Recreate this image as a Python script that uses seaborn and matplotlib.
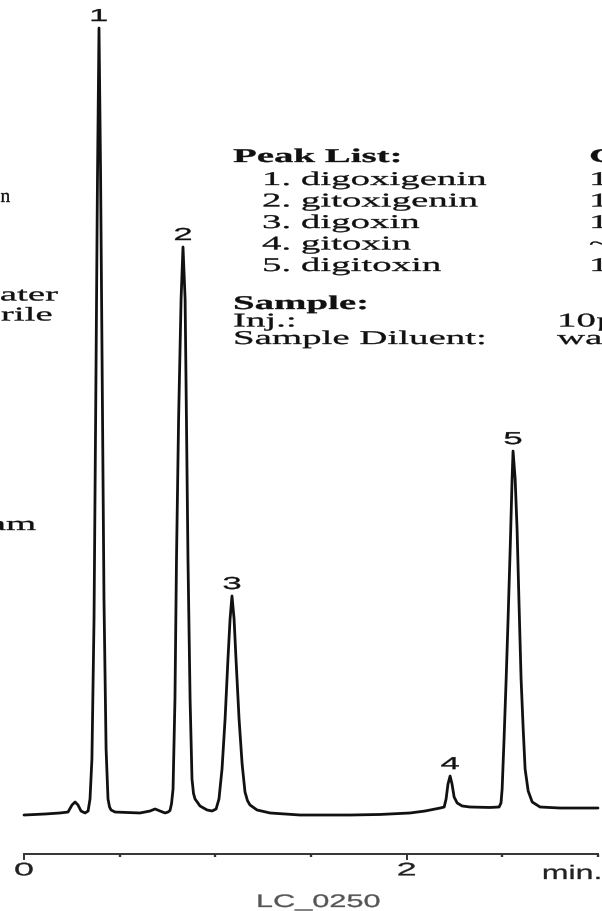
import matplotlib
matplotlib.use("Agg")
import matplotlib.pyplot as plt
import matplotlib.patheffects as pe
from matplotlib.transforms import Affine2D
import numpy as np
import pandas as pd
import seaborn as sns

# ---------------- data ----------------
time_min = [0.000, 0.110, 0.188, 0.230, 0.251, 0.267, 0.282, 0.298, 0.319, 0.335,
            0.345, 0.355, 0.366, 0.376, 0.384, 0.392, 0.400, 0.408, 0.418, 0.429,
            0.439, 0.447, 0.455, 0.476, 0.606, 0.659, 0.685, 0.711, 0.737, 0.753,
            0.763, 0.771, 0.779, 0.789, 0.797, 0.808, 0.821, 0.831, 0.842, 0.849,
            0.857, 0.868, 0.878, 0.886, 0.894, 0.920, 0.957, 0.983, 1.004, 1.019,
            1.035, 1.051, 1.066, 1.077, 1.087, 1.098, 1.108, 1.124, 1.140, 1.155,
            1.168, 1.181, 1.218, 1.286, 1.443, 1.704, 1.861, 2.018, 2.096, 2.175,
            2.196, 2.206, 2.216, 2.227, 2.237, 2.248, 2.264, 2.290, 2.331, 2.436,
            2.483, 2.493, 2.499, 2.509, 2.520, 2.530, 2.541, 2.551, 2.556, 2.567,
            2.577, 2.588, 2.598, 2.609, 2.619, 2.635, 2.656, 2.697, 2.802, 3.000]
signal = [-0.13, 0.00, 0.13, 0.25, 1.15, 1.53, 1.15, 0.38, 0.13, 0.38,
          1.91, 7.00, 24.81, 55.34, 80.79, 100.00, 82.06, 57.89, 27.35, 8.27,
          1.91, 0.89, 0.51, 0.25, 0.13, 0.38, 0.64, 0.38, 0.13, 0.25,
          0.45, 1.30, 3.18, 14.63, 32.44, 50.25, 65.52, 72.14, 65.52, 50.25,
          32.44, 14.63, 4.45, 2.60, 1.91, 1.02, 0.51, 0.38, 0.64, 1.91,
          5.73, 12.09, 19.72, 24.81, 27.74, 24.81, 19.72, 12.09, 6.36, 2.80,
          1.70, 1.15, 0.51, 0.13, -0.13, -0.13, -0.06, 0.13, 0.38, 0.76,
          0.89, 1.91, 3.82, 4.83, 3.82, 2.16, 1.40, 1.02, 0.89, 0.83,
          0.89, 1.40, 3.18, 9.54, 17.18, 24.81, 33.72, 42.62, 46.18, 42.62,
          36.26, 26.08, 17.18, 10.81, 5.73, 2.93, 1.53, 0.89, 0.76, 0.76]

peak_numbers = ["1", "2", "3", "4", "5"]
peak_times = [0.392, 0.831, 1.087, 2.227, 2.556]
peak_heights = [100.00, 72.14, 27.74, 4.83, 46.18]

compounds = ["digoxigenin", "gitoxigenin", "digoxin", "gitoxin", "digitoxin"]
conc_visible = ["1", "1", "1", "~", "1"]

major_ticks = [0, 2]
major_tick_labels = ["0", "2"]
minor_ticks = [0.5, 1.0, 1.5, 2.5, 3.0]


# ---------------- horizontal text stretch (the reference text is wide) ----
class HStretch(pe.AbstractPathEffect):
    def __init__(self, sx=2.0, anchor="left", stroke=0.25):
        super().__init__()
        self.sx = sx
        self.anchor = anchor
        self.stroke = stroke

    def draw_path(self, renderer, gc, tpath, affine, rgbFace=None):
        if self.anchor == "left":
            x0 = affine.get_matrix()[0, 2]
        else:
            ext = tpath.get_extents(affine)
            x0 = 0.5 * (ext.x0 + ext.x1) if self.anchor == "center" else ext.x1
        new_aff = affine + Affine2D().translate(-x0, 0).scale(self.sx, 1.0).translate(x0, 0)
        gc0 = renderer.new_gc()
        gc0.copy_properties(gc)
        if self.stroke > 0 and rgbFace is not None:
            gc0.set_linewidth(self.stroke)
            gc0.set_foreground(rgbFace)
        renderer.draw_path(gc0, tpath, new_aff, rgbFace)
        gc0.restore()


sns.set_theme(style="white")
plt.rcParams["font.family"] = ["Liberation Sans", "DejaVu Sans"]

W, H = 602, 912
fig = plt.figure(figsize=(W / 100, H / 100), dpi=100)
fig.patch.set_facecolor("white")

ax_bottom_px = 855
ax = fig.add_axes([0, 1 - ax_bottom_px / H, 1, ax_bottom_px / H])
ax.set_facecolor("white")

df = pd.DataFrame({"time": time_min, "signal": signal})
sns.lineplot(data=df, x="time", y="signal", ax=ax, color="#111111",
             linewidth=2.0, estimator=None, sort=False)

px_per_min = 191.33
ax.set_xlim(-24 / px_per_min, 3 + 4 / px_per_min)
px_per_unit = 7.86
ax.set_ylim(-(ax_bottom_px - 815) / px_per_unit, 815 / px_per_unit)

for s in ["top", "left", "right"]:
    ax.spines[s].set_visible(False)
ax.spines["bottom"].set_bounds(0, 3)
ax.spines["bottom"].set_linewidth(1.4)
ax.spines["bottom"].set_color("#333333")

ax.set_xticks(major_ticks, major_tick_labels)
ax.set_xticks(minor_ticks, minor=True)
ax.set_yticks([])
ax.tick_params(axis="x", which="major", direction="out", length=4.5, width=1.4,
               color="#333333", pad=1.5, labelsize=13, labelcolor="#222222",
               bottom=True)
ax.tick_params(axis="x", which="minor", direction="out", length=1.8, width=1.7,
               color="#333333", bottom=True)
ax.set_xlabel("")
ax.set_ylabel("")
for lbl in ax.get_xticklabels():
    lbl.set_path_effects([HStretch(2.0, "center")])

# peak labels
for num, t, h in zip(peak_numbers, peak_times, peak_heights):
    ax.annotate(num, xy=(t, h), xytext=(0, 5), textcoords="offset points",
                ha="center", va="baseline", fontsize=12.5, color="#111111",
                annotation_clip=False,
                path_effects=[HStretch(2.0, "center")])


def ftext(x, y, s, size=14, weight="normal", family="Liberation Serif",
          ha="left", sx=2.0, color="#111111"):
    fig.text(x / W, 1 - y / H, s, fontsize=size, fontweight=weight,
             family=[family, "DejaVu Sans"], ha=ha, va="baseline", color=color,
             path_effects=[HStretch(sx, ha)])


# peak list panel
row_baselines = [186, 207.5, 229, 250.5, 272]
ftext(233, 163, "Peak List:", weight="bold")
ftext(589, 163, "C", weight="bold")
for i, (name, conc, yb) in enumerate(zip(compounds, conc_visible, row_baselines)):
    ftext(262, yb, f"{i + 1}. {name}")
    ftext(589, yb, conc)

ftext(233, 310, "Sample:", weight="bold")
ftext(233, 327.5, "Inj.:")
ftext(233, 345, "Sample Diluent:")
ftext(557, 327.5, "10µ")
ftext(557, 345, "wa")

# cropped fragments of the left-hand conditions panel
ftext(0.5, 203, "n", ha="left", sx=1.0)
ftext(58, 301.5, "ater", ha="right")
ftext(52, 321.5, "rile", ha="right")
ftext(36, 531, "am", ha="right")

# axis unit and figure code
ftext(572, 880, "min.", size=14, family="Liberation Sans", ha="center",
      sx=1.65, color="#222222")
ftext(318.5, 908, "LC_0250", size=13, family="Liberation Sans", ha="center",
      sx=1.7, color="#555555")

fig.savefig("out.png", dpi=100, facecolor="white")
